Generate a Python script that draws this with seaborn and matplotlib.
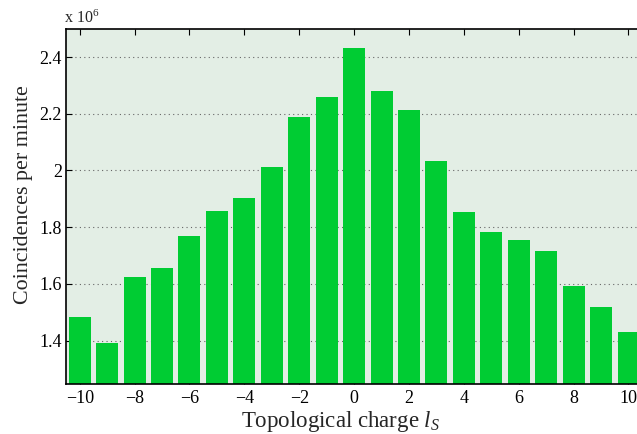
import matplotlib
matplotlib.use("Agg")
import matplotlib.pyplot as plt
import seaborn as sns
import numpy as np
import pandas as pd

charges = list(range(-10, 11))
coincidences = [1.485, 1.390, 1.623, 1.655, 1.770, 1.858, 1.904, 2.012, 2.189, 2.260,
                2.433, 2.281, 2.214, 2.034, 1.854, 1.784, 1.755, 1.716, 1.593, 1.517, 1.432]
xticks = [-10, -8, -6, -4, -2, 0, 2, 4, 6, 8, 10]
yticks = [1.4, 1.6, 1.8, 2.0, 2.2, 2.4]
ytick_labels = ["1.4", "1.6", "1.8", "2", "2.2", "2.4"]

sns.set_style("white")
plt.rcParams['font.family'] = ['Liberation Serif', 'DejaVu Serif']
plt.rcParams['mathtext.fontset'] = 'custom'
plt.rcParams['mathtext.it'] = 'Liberation Serif:italic'
plt.rcParams['mathtext.rm'] = 'Liberation Serif'

df = pd.DataFrame({"charge": charges, "value": coincidences})

fig = plt.figure(figsize=(6.37, 4.34), dpi=100)
ax = fig.add_axes([66/637, 50/434, 1 - 66/637, 355/434])
ax.set_facecolor("#e3eee5")

sns.barplot(data=df, x="charge", y="value", native_scale=True, color="#00cc33",
            saturation=1, width=0.8, ax=ax, zorder=2, edgecolor="none", linewidth=0)

ax.set_xlim(-10.5, 10.31)
ax.set_ylim(1.247, 2.499)
ax.set_xticks(xticks)
ax.set_xticklabels([str(t).replace("-", "\u2212") for t in xticks])
ax.set_yticks(yticks)
ax.set_yticklabels(ytick_labels)
ax.yaxis.grid(True, linestyle=(0, (1, 3)), color="#666666", linewidth=0.8, zorder=1)
ax.xaxis.grid(False)
ax.set_axisbelow(True)

for s in ["left", "bottom", "top"]:
    ax.spines[s].set_visible(True)
    ax.spines[s].set_color("black")
    ax.spines[s].set_linewidth(1.2)
ax.spines["right"].set_visible(False)

ax.tick_params(axis="both", direction="in", length=4, width=0.8, labelsize=13,
               top=True, bottom=True, left=True, right=False, colors="black")
ax.tick_params(axis="x", pad=4)
ax.tick_params(axis="y", pad=3)

ax.set_xlabel("Topological charge $\\mathit{l}_{\\mathit{S}}$", fontsize=16.5)
ax.set_ylabel("Coincidences per minute", fontsize=15.8)
ax.xaxis.set_label_coords((341 - 66) / 571, -(427 - 384) / 355, transform=ax.transAxes)
ax.xaxis.label.set_va("baseline")
ax.yaxis.set_label_coords(-(66 - 24) / 571, (384 - 195) / 355, transform=ax.transAxes)
ax.yaxis.label.set_va("center")
fig.text(66/637 - 0.003, 1 - 18/434, "x 10$^{6}$", fontsize=11.5, ha="left", va="center")

fig.savefig("out.png", dpi=100)
